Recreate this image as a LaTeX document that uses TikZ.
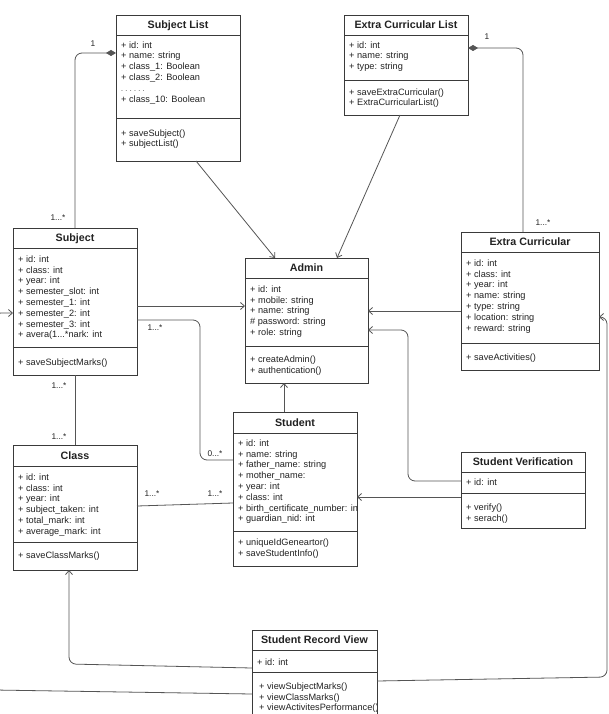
\documentclass[tikz,border=0pt]{standalone}
\usepackage{fontspec}
\setmainfont{Liberation Sans}
\usetikzlibrary{arrows.meta}
\definecolor{boxc}{HTML}{3A3A3A}
\definecolor{linec}{HTML}{555555}
\definecolor{txtc}{HTML}{222222}
\tikzset{
 cls/.style={draw=boxc, line width=0.9pt, fill=white, anchor=north west, inner sep=0pt, outer sep=0pt},
 ttl/.style={font=\fontsize{10.7}{12}\selectfont\bfseries, text=txtc, anchor=base, inner sep=0pt},
 txt/.style={font=\fontsize{9.2}{10.8}\selectfont, text=txtc, align=left, anchor=north west, inner sep=0pt},
 sepl/.style={draw=boxc, line width=0.9pt},
 conn/.style={draw=linec, line width=0.8pt, rounded corners=7pt},
 arr/.style={conn, -{Straight Barb[length=4pt,width=7pt]}},
 dia/.style={conn, -{Diamond[length=10pt,width=6pt]}},
 lbl/.style={font=\fontsize{8.3}{9}\selectfont, text=txtc, inner sep=0pt},
}
% name, x1, y1, x2, y2, header line, separator line, title
\newcommand\umlcls[8]{%
 \node[cls, minimum width={#4-#2}, minimum height={#5-#3}] (#1) at (#2,#3) {};
 \node[ttl] (#1-t) at ({(#2+#4)/2},{#6-6.2}) {#8};
 \draw[sepl] (#2,#6) -- (#4,#6);
 \draw[sepl] (#2,#7) -- (#4,#7);
}
% name, x, first line centre, text
\newcommand\umltxt[4]{\node[txt] (#1) at (#2,{#3-4.56}) {\strut #4};}
\begin{document}
\begin{tikzpicture}[x=1pt,y=-1pt]
\useasboundingbox[fill=white] (0,0) rectangle (609,714);

% ---------- classes ----------
\umlcls{sublist}{116}{15}{240}{161}{35}{118}{Subject List}
\umltxt{sublist-a}{121}{45}{+ id: int\\+ name: string\\+ class\_1: Boolean\\+ class\_2: Boolean\\{\fontsize{7}{10.8}\selectfont .\,\,.\,\,.\,\,.\,\,.\,\,.}\\+ class\_10: Boolean}
\umltxt{sublist-m}{121}{133}{+ saveSubject()\\+ subjectList()}

\umlcls{ecl}{344}{15}{468}{115}{35}{80}{Extra Curricular List}
\umltxt{ecl-a}{349}{45}{+ id: int\\+ name: string\\+ type: string}
\umltxt{ecl-m}{349}{92}{+ saveExtraCurricular()\\+ ExtraCurricularList()}

\umlcls{subj}{13}{228}{137}{375}{248}{347}{Subject}
\umltxt{subj-a}{18}{259}{+ id: int\\+ class: int\\+ year: int\\+ semester\_slot: int\\+ semester\_1: int\\+ semester\_2: int\\+ semester\_3: int\\+ avera(1...*nark: int}
\umltxt{subj-m}{18}{362}{+ saveSubjectMarks()}

\umlcls{admin}{245}{258}{368}{383}{278}{346}{Admin}
\umltxt{admin-a}{250}{289}{+ id: int\\+ mobile: string\\+ name: string\\\# password: string\\+ role: string}
\umltxt{admin-m}{250}{359}{+ createAdmin()\\+ authentication()}

\umlcls{ec}{461}{232}{599}{370}{252}{343}{Extra Curricular}
\umltxt{ec-a}{466}{263}{+ id: int\\+ class: int\\+ year: int\\+ name: string\\+ type: string\\+ location: string\\+ reward: string}
\umltxt{ec-m}{466}{357}{+ saveActivities()}

\umlcls{student}{233}{412}{357}{566}{433}{531}{Student}
\begin{scope}
\clip (student.north west) rectangle (student.south east);
\umltxt{student-a}{238}{443}{+ id: int\\+ name: string\\+ father\_name: string\\+ mother\_name:\\+ year: int\\+ class: int\\+ birth\_certificate\_number: int\\+ guardian\_nid: int}
\end{scope}
\umltxt{student-m}{238}{542}{+ uniqueIdGeneartor()\\+ saveStudentInfo()}

\umlcls{class}{13}{445}{137}{570}{466}{542}{Class}
\umltxt{class-a}{18}{477}{+ id: int\\+ class: int\\+ year: int\\+ subject\_taken: int\\+ total\_mark: int\\+ average\_mark: int}
\umltxt{class-m}{18}{555}{+ saveClassMarks()}

\umlcls{sv}{461}{452}{585}{528}{472}{493}{Student Verification}
\umltxt{sv-a}{466}{482}{+ id: int}
\umltxt{sv-m}{466}{507}{+ verify()\\+ serach()}

\umlcls{srv}{252}{630}{377}{726}{650}{672}{Student Record View}
\umltxt{srv-a}{257}{662}{+ id: int}
\begin{scope}
\clip (srv.north west) rectangle ([xshift=-1pt]srv.south east);
\umltxt{srv-m}{259}{686}{+ viewSubjectMarks()\\+ viewClassMarks()\\+ viewActivitesPerformance()}
\end{scope}
\draw[sepl] (srv.north east) -- (srv.south east);

% ---------- connectors ----------
\draw[dia] (subj.north) |- (sublist.west |- 0,53);
\draw[dia] (ec.north -| 523,0) |- (ecl.east |- 0,48);
\draw[arr] (sublist.south -| 196,0) -- (admin.north -| 275,0);
\draw[arr] (ecl.south -| 400,0) -- (admin.north -| 337,0);
\draw[arr] (subj.east |- 0,306) -- (admin.west |- 0,306);
\draw[conn] (subj.east |- 0,320) -- (200,320) -- (200,460) -- (student.west |- 0,460);
\draw[arr] (ec.west |- 0,311) -- (admin.east |- 0,311);
\draw[arr] (sv.west |- 0,481) -- (408,481) -- (408,330) -- (admin.east |- 0,330);
\draw[arr] (sv.west |- 0,497) -- (student.east |- 0,497);
\draw[arr] (student.north -| 284,0) -- (admin.south -| 284,0);
\draw[conn] (subj.south) -- (class.north);
\draw[conn] (class.east |- 0,506) -- (student.west |- 0,503);
\draw[arr] (srv.west |- 0,668) -- (69,664) -- (class.south -| 69,0);
\draw[arr] (srv.east |- 0,681) -- (607,677) -- (607,317) -- (ec.east |- 0,317);
\draw[arr] (srv.west |- 0,694) -- (-6,690) -- (-6,313) -- (subj.west |- 0,313);

% ---------- multiplicities ----------
\node[lbl] (m1) at (93,44) {1};
\node[lbl] (m2) at (58,218) {1...*};
\node[lbl] (m3) at (487,37) {1};
\node[lbl] (m4) at (543,223) {1...*};
\node[lbl] (m5) at (155,328) {1...*};
\node[lbl] (m6) at (215,454) {0...*};
\node[lbl] (m7) at (59,386) {1...*};
\node[lbl] (m8) at (59,437) {1...*};
\node[lbl] (m9) at (152,494) {1...*};
\node[lbl] (m10) at (215,494) {1...*};
\end{tikzpicture}
\end{document}
